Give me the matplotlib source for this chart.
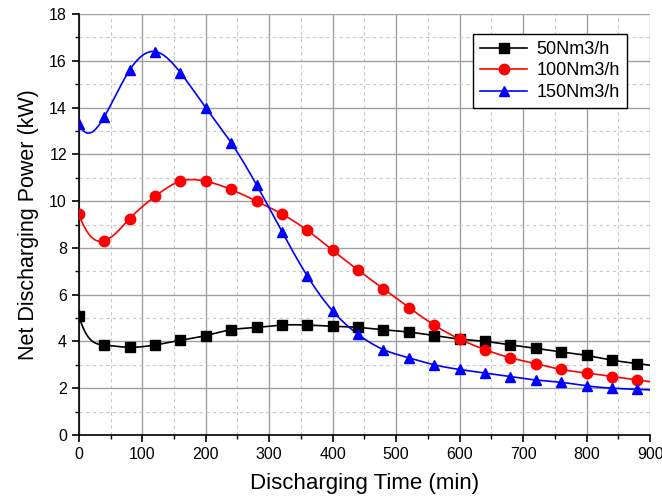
import numpy as np
import matplotlib
matplotlib.use("Agg")
import matplotlib.pyplot as plt
from matplotlib.ticker import MultipleLocator

plt.rcParams['font.family'] = ['Liberation Sans', 'DejaVu Sans']

time_min = [0, 40, 80, 120, 160, 200, 240, 280, 320, 360, 400, 440, 480, 520,
            560, 600, 640, 680, 720, 760, 800, 840, 880]
power_50 = [5.1, 3.85, 3.75, 3.85, 4.05, 4.25, 4.5, 4.6, 4.7, 4.7, 4.65, 4.6,
            4.5, 4.4, 4.25, 4.1, 4.0, 3.85, 3.7, 3.55, 3.4, 3.2, 3.05]
power_100 = [9.45, 8.3, 9.25, 10.2, 10.85, 10.85, 10.5, 10.0, 9.45, 8.75, 7.9,
             7.05, 6.25, 5.45, 4.7, 4.1, 3.65, 3.3, 3.05, 2.8, 2.65, 2.5, 2.35]
power_150 = [13.3, 13.6, 15.6, 16.4, 15.5, 14.0, 12.5, 10.7, 8.7, 6.8, 5.3,
             4.3, 3.65, 3.3, 3.0, 2.8, 2.65, 2.5, 2.35, 2.25, 2.1, 2.0, 1.95]
labels = ["50Nm3/h", "100Nm3/h", "150Nm3/h"]
colors = ["black", "red", "blue"]
markers = ["s", "o", "^"]
start_slopes = [-0.09, -0.075, -0.055]   # curve-drawing style (initial tangent)


def spline(x, y, xs, s0=None):
    x = np.asarray(x, float); y = np.asarray(y, float)
    n = len(x)
    h = np.diff(x)
    A = np.zeros((n, n)); b = np.zeros(n)
    if s0 is None:
        A[0, 0] = 1
    else:
        A[0, 0] = 2 * h[0]; A[0, 1] = h[0]
        b[0] = 3 * ((y[1] - y[0]) / h[0] - s0)
    A[-1, -1] = 1
    for i in range(1, n - 1):
        A[i, i - 1] = h[i - 1]
        A[i, i] = 2 * (h[i - 1] + h[i])
        A[i, i + 1] = h[i]
        b[i] = 3 * ((y[i + 1] - y[i]) / h[i] - (y[i] - y[i - 1]) / h[i - 1])
    c = np.linalg.solve(A, b)
    bb = (y[1:] - y[:-1]) / h - h * (2 * c[:-1] + c[1:]) / 3
    d = (c[1:] - c[:-1]) / (3 * h)
    idx = np.clip(np.searchsorted(x, xs) - 1, 0, n - 2)
    dx = xs - x[idx]
    return y[idx] + bb[idx] * dx + c[idx] * dx**2 + d[idx] * dx**3


fig = plt.figure(figsize=(6.62, 5.04), dpi=100)
ax = fig.add_axes([0.119, 0.137, 0.863, 0.835])

xs = np.linspace(0, 900, 900)
for ys, lab, col, mk, s0 in zip([power_50, power_100, power_150], labels, colors,
                                markers, start_slopes):
    ax.plot(xs, spline(time_min, ys, xs, s0), color=col, lw=1.2, zorder=3)
    ax.plot(time_min, ys, linestyle='none', marker=mk, color=col, ms=7.5, zorder=4)
    ax.plot([], [], color=col, marker=mk, ms=7.5, lw=1.2, label=lab)

ax.set_xlim(0, 900)
ax.set_ylim(0, 18)
ax.xaxis.set_major_locator(MultipleLocator(100))
ax.xaxis.set_minor_locator(MultipleLocator(50))
ax.yaxis.set_major_locator(MultipleLocator(2))
ax.yaxis.set_minor_locator(MultipleLocator(1))
ax.grid(which='major', color='#a0a0a0', lw=1.0, zorder=0)
ax.grid(which='minor', color='#c8c8c8', lw=0.8, ls=(0, (3, 3)), zorder=0)
ax.set_axisbelow(True)
for s in ['top', 'right']:
    ax.spines[s].set_visible(False)
for s in ['left', 'bottom']:
    ax.spines[s].set_linewidth(1.2)
ax.tick_params(which='major', direction='out', length=5, width=1.2, labelsize=11.5)
ax.tick_params(which='minor', direction='out', length=3, width=1.0)
ax.set_xlabel("Discharging Time (min)", fontsize=16, labelpad=8)
ax.set_ylabel("Net Discharging Power (kW)", fontsize=15.5, labelpad=7)

leg = ax.legend(loc='upper right', bbox_to_anchor=(0.975, 0.975), fontsize=13,
                frameon=True, fancybox=False, edgecolor='black', framealpha=1,
                handlelength=2.6, borderpad=0.4, labelspacing=0.25, handletextpad=0.5)
leg.get_frame().set_linewidth(1.0)

fig.savefig("out.png", dpi=100)
